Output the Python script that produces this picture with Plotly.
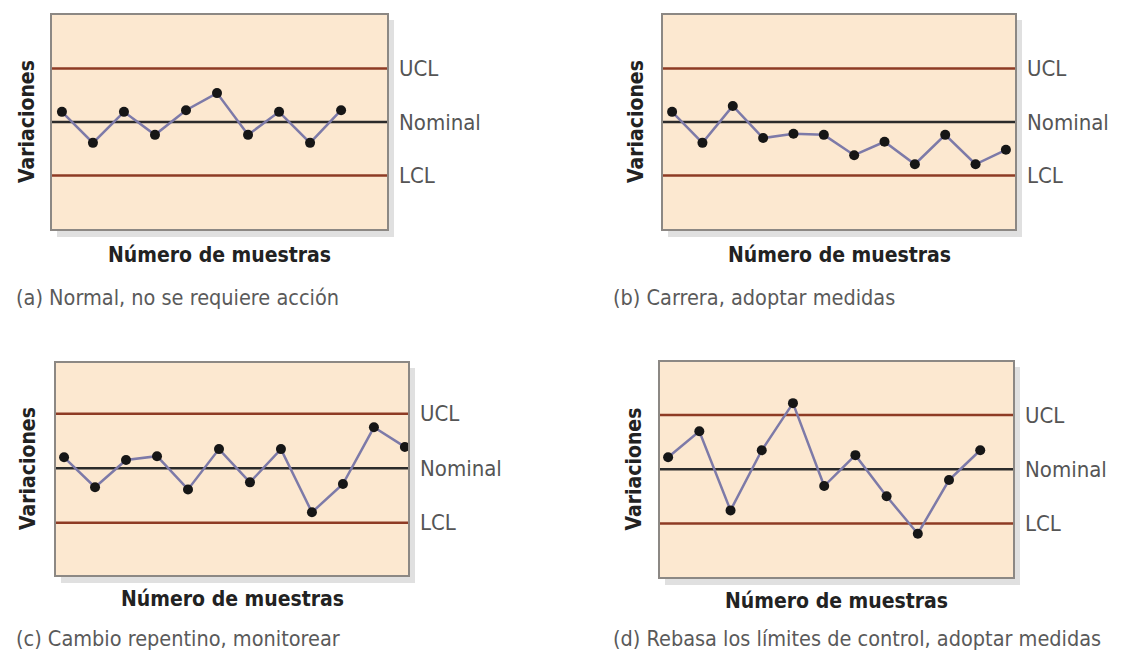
import plotly.graph_objects as go

W, H = 1126, 659
OFF = 8  # default page body margin in the written html

# Data
limit_names = ["UCL", "Nominal", "LCL"]
limit_values = [1.0, 0.0, -1.0]

series_a = [0.19, -0.39, 0.19, -0.24, 0.22, 0.54, -0.24, 0.19, -0.39, 0.22]
series_b = [0.19, -0.39, 0.30, -0.30, -0.22, -0.24, -0.62, -0.37, -0.79, -0.24, -0.79, -0.52]
series_c = [0.20, -0.35, 0.15, 0.22, -0.39, 0.35, -0.26, 0.35, -0.81, -0.29, 0.75, 0.39]
series_d = [0.22, 0.70, -0.76, 0.35, 1.22, -0.31, 0.26, -0.50, -1.19, -0.20, 0.35]

captions = [
    "(a) Normal, no se requiere acción",
    "(b) Carrera, adoptar medidas",
    "(c) Cambio repentino, monitorear",
    "(d) Rebasa los límites de control, adoptar medidas",
]
x_title = "Número de muestras"
y_title = "Variaciones"

# layout (pixel boxes in page coords: left, right, top, bottom) and x ranges
panels = [
    dict(series=series_a, box=(52, 387, 15, 229), xr=(0.68, 11.48), yr=(-2.0, 2.0), cap=(14, 298), tx=(255, 27)),
    dict(series=series_b, box=(663, 1015, 15, 229), xr=(0.70, 12.3), yr=(-2.0, 2.0), cap=(611, 298), tx=(255, 636)),
    dict(series=series_c, box=(56, 408, 363, 575), xr=(0.74, 12.1), yr=(-1.96, 1.93), cap=(14, 638), tx=(599, 28)),
    dict(series=series_d, box=(660, 1013, 362, 577), xr=(0.74, 12.05), yr=(-1.99, 1.98), cap=(611, 638), tx=(601, 633)),
]

FW, FH = W - OFF, H - OFF


def px(x):
    return (x - OFF) / FW


def py(y):
    return 1 - (y - OFF) / FH


FONT = "DejaVu Sans Condensed, Liberation Sans Narrow, Arial Narrow, sans-serif"
PEACH = "#fce8d0"
BORDER = "#8c8884"
LIMIT_COLORS = {"UCL": "#8e3b24", "Nominal": "#2b2b2b", "LCL": "#8e3b24"}
LINE_COLOR = "#7d7aa8"

fig = go.Figure()
shapes = []
annotations = []

for i, p in enumerate(panels):
    n = i + 1
    xa = "x" if n == 1 else f"x{n}"
    ya = "y" if n == 1 else f"y{n}"
    l, r, t, b = p["box"]
    xs = list(range(1, len(p["series"]) + 1))
    fig.add_trace(go.Scatter(
        x=xs, y=p["series"], mode="lines+markers",
        line=dict(color=LINE_COLOR, width=2.5),
        marker=dict(color="#161616", size=10),
        xaxis=xa, yaxis=ya, showlegend=False, hoverinfo="skip",
    ))
    axkw = dict(showgrid=False, zeroline=False, showticklabels=False, ticks="",
                showline=True, mirror=True, linecolor=BORDER, linewidth=2)
    fig.layout[f"xaxis{'' if n == 1 else n}"] = dict(
        domain=[px(l), px(r)], range=list(p["xr"]), anchor=ya, fixedrange=True, **axkw)
    fig.layout[f"yaxis{'' if n == 1 else n}"] = dict(
        domain=[py(b), py(t)], range=list(p["yr"]), anchor=xa, fixedrange=True, **axkw)

    # drop shadow strips (right and bottom) outside the plot box
    shapes.append(dict(type="rect", xref="paper", yref="paper", layer="below",
                       x0=px(r + 1), x1=px(r + 7), y0=py(b + 8), y1=py(t + 5),
                       fillcolor="#e0e0e0", line=dict(width=0)))
    shapes.append(dict(type="rect", xref="paper", yref="paper", layer="below",
                       x0=px(l + 5), x1=px(r + 7), y0=py(b + 8), y1=py(b + 1),
                       fillcolor="#e0e0e0", line=dict(width=0)))

    for name, val in zip(limit_names, limit_values):
        shapes.append(dict(type="line", xref=f"{xa} domain", yref=ya, layer="below",
                           x0=0, x1=1, y0=val, y1=val,
                           line=dict(color=LIMIT_COLORS[name], width=2.5)))
        annotations.append(dict(text=name, xref=f"{xa} domain", yref=ya, x=1, y=val,
                                xanchor="left", yanchor="middle", xshift=10, showarrow=False,
                                font=dict(family=FONT, size=22, color="#555555")))

    ty, tx = p["tx"]
    annotations.append(dict(text=f"<b>{x_title}</b>", xref=f"{xa} domain", yref="paper",
                            x=0.5, y=py(ty), xanchor="center", yanchor="middle",
                            showarrow=False, font=dict(family=FONT, size=21, color="#222222")))
    annotations.append(dict(text=f"<b>{y_title}</b>", xref="paper", yref=f"{ya} domain",
                            x=px(tx), y=0.5, xanchor="center", yanchor="middle", textangle=-90,
                            showarrow=False, font=dict(family=FONT, size=21, color="#222222")))
    cx, cy = p["cap"]
    annotations.append(dict(text=captions[i], xref="paper", yref="paper",
                            x=px(cx), y=py(cy), xanchor="left", yanchor="middle",
                            showarrow=False, font=dict(family=FONT, size=21.5, color="#5a5a5a")))

fig.update_layout(
    width=FW, height=FH, margin=dict(l=0, r=0, t=0, b=0),
    paper_bgcolor="white", plot_bgcolor=PEACH,
    shapes=shapes, annotations=annotations, showlegend=False,
)

fig.write_html("out.html", config={"displayModeBar": False})
